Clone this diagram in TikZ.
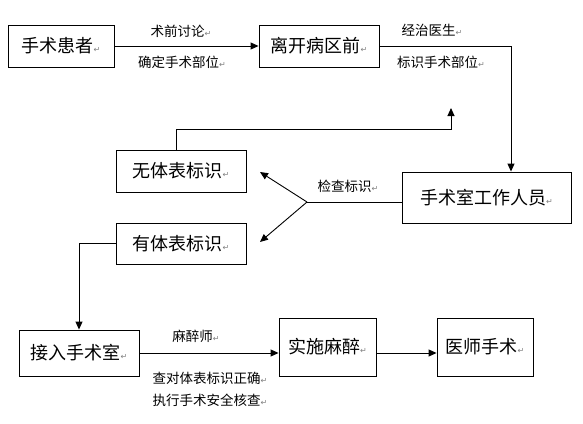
\documentclass[tikz,border=0pt]{standalone}
\usepackage{fontspec}
\setmainfont{Noto Sans CJK SC}
\newfontfamily\dvfont{DejaVu Sans}
\usetikzlibrary{arrows.meta}
\newcommand{\retmark}{{\dvfont\color{gray}\fontsize{8}{8}\selectfont ↵}}
\tikzset{
  box/.style={draw, line width=0.9pt, inner sep=0pt, font=\fontsize{18}{18}\selectfont},
  lbl/.style={inner sep=0pt, font=\fontsize{13.5}{13.5}\selectfont},
  conn/.style={line width=0.9pt},
  arr/.style={conn, -{Triangle[length=8pt,width=7pt]}},
}
\begin{document}
\begin{tikzpicture}[x=1pt,y=-1pt]
\useasboundingbox (0,0) rectangle (583,423);
% boxes
\node[box, minimum width=106pt, minimum height=42pt] (p1) at (61,46) {手术患者\retmark};
\node[box, minimum width=120pt, minimum height=42pt] (p2) at (319,46) {离开病区前\retmark};
\node[box, minimum width=169pt, minimum height=51pt] (staff) at (486.5,197.5) {手术室工作人员\retmark};
\node[box, minimum width=130pt, minimum height=42pt] (none) at (181,171) {无体表标识\retmark};
\node[box, minimum width=130pt, minimum height=41pt] (has) at (181,243.5) {有体表标识\retmark};
\node[box, minimum width=120pt, minimum height=46pt] (join) at (79,353) {接入手术室\retmark};
\node[box, minimum width=97pt, minimum height=58pt] (anes) at (327.5,347) {实施麻醉\retmark};
\node[box, minimum width=96pt, minimum height=58pt] (doc) at (485,347) {医师手术\retmark};
% labels
\node[lbl] (l1) at (181,31) {术前讨论\retmark};
\node[lbl] (l2) at (182,62) {确定手术部位\retmark};
\node[lbl] (l3) at (432,30) {经治医生\retmark};
\node[lbl] (l4) at (441,62) {标识手术部位\retmark};
\node[lbl] (l5) at (348,186) {检查标识\retmark};
\node[lbl] (l6) at (196,336) {麻醉师\retmark};
\node[lbl] (l7) at (210,378) {查对体表标识正确\retmark};
\node[lbl] (l8) at (210,400) {执行手术安全核查\retmark};
% coordinates
\coordinate (c1) at (511,46);
\coordinate (c2) at (176,129);
\coordinate (c3) at (451,129);
\coordinate (up) at (451,108);
\coordinate (br) at (307,202);
\coordinate (tnone) at (260,172);
\coordinate (thas) at (260,242);
\coordinate (c4) at (79,243.5);
% connectors
\draw[arr] (p1.east) -- (p2.west);
\draw[arr] (p2.east) -- (c1) -- (c1 |- staff.north);
\draw[arr] (none.north -| c2) -- (c2) -- (c3) -- (up);
\draw[conn] (staff.west |- br) -- (br);
\draw[arr] (br) -- (tnone);
\draw[arr] (br) -- (thas);
\draw[arr] (has.west) -- (c4) -- (c4 |- join.north);
\draw[arr] (join.east) -- (anes.west |- join.east);
\draw[arr] (anes.east |- join.east) -- (doc.west |- join.east);
\end{tikzpicture}
\end{document}
